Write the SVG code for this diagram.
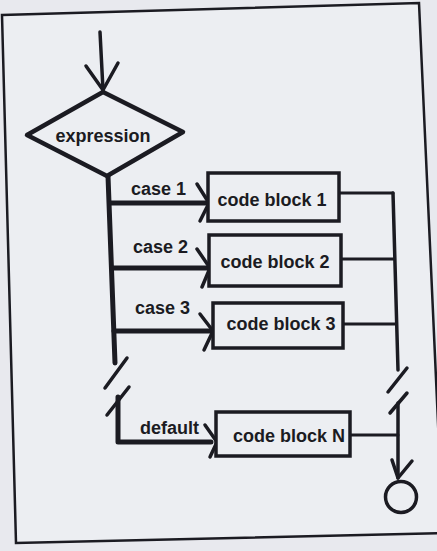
<svg xmlns="http://www.w3.org/2000/svg" width="437" height="551" viewBox="0 0 437 551">
<style>
.ln{fill:none;stroke:#1b1b22;stroke-linecap:round;stroke-linejoin:round}
.thick{stroke-width:5}
.mid{stroke-width:3.5}
.thin{stroke-width:3}
.box{fill:#eceef2;stroke:#1b1b22;stroke-width:3.5}
.t{font-family:"Liberation Sans",Arial,sans-serif;font-weight:bold;font-size:18px;fill:#1b1b22}
</style>
<rect x="0" y="0" width="437" height="551" fill="#e8e9ee"/>
<polygon points="2,15 419,3 443,533 16,543" fill="#eceef2" stroke="#1b1b22" stroke-width="2.5"/>

<g id="connectors">
  <!-- entry -->
  <line class="ln mid" x1="100" y1="32" x2="103" y2="90"/>
  <polyline class="ln mid" points="86,66 103,90 118,63"/>
  <!-- main left trunk -->
  <polyline class="ln thick" points="108,176 115,363"/>
  <line class="ln mid" x1="127" y1="358" x2="105" y2="388"/>
  <line class="ln mid" x1="129" y1="387" x2="107" y2="415"/>
  <polyline class="ln thick" points="118,397 118,442 211,442"/>
  <!-- case branches -->
  <line class="ln thick" x1="111" y1="203" x2="206" y2="203"/>
  <polyline class="ln mid" points="197,184 209,203 200,221"/>
  <line class="ln thick" x1="112" y1="268" x2="207" y2="268"/>
  <polyline class="ln mid" points="197,249 210,268 202,287"/>
  <line class="ln thick" x1="114" y1="331" x2="210" y2="331"/>
  <polyline class="ln mid" points="200,314 213,331 204,350"/>
  <polyline class="ln mid" points="205,425 217,442 210,457"/>
  <!-- right collector -->
  <line class="ln thin" x1="339" y1="193" x2="393" y2="193"/>
  <line class="ln thin" x1="341" y1="259" x2="394" y2="259"/>
  <line class="ln thin" x1="343" y1="324" x2="395" y2="324"/>
  <polyline class="ln mid" points="393,193 398,370"/>
  <line class="ln mid" x1="407" y1="368" x2="388" y2="392"/>
  <line class="ln mid" x1="407" y1="393" x2="390" y2="413"/>
  <line class="ln mid" x1="398" y1="403" x2="398" y2="478"/>
  <line class="ln thin" x1="350" y1="435" x2="398" y2="435"/>
  <polyline class="ln mid" points="392,460 398,478 412,461"/>
  <!-- labels -->
  <text class="t" x="131" y="195">case 1</text>
  <text class="t" x="133" y="253">case 2</text>
  <text class="t" x="135" y="314">case 3</text>
  <text class="t" x="140" y="434">default</text>
</g>

<g id="expression">
  <polygon points="103,92 183,132 107,176 27,135" fill="#eceef2" stroke="#1b1b22" stroke-width="4.5" stroke-linejoin="round"/>
  <text class="t" x="103" y="142" text-anchor="middle">expression</text>
</g>
<g id="block1">
  <rect class="box" x="208" y="173" width="131" height="48"/>
  <text class="t" x="272" y="206" text-anchor="middle">code block 1</text>
</g>
<g id="block2">
  <rect class="box" x="209" y="235" width="132" height="51"/>
  <text class="t" x="275" y="268" text-anchor="middle">code block 2</text>
</g>
<g id="block3">
  <rect class="box" x="213" y="303" width="130" height="45"/>
  <text class="t" x="281" y="330" text-anchor="middle">code block 3</text>
</g>
<g id="blockN">
  <rect class="box" x="216" y="412" width="134" height="44"/>
  <text class="t" x="289" y="442" text-anchor="middle">code block N</text>
</g>
<g id="end">
  <circle cx="401" cy="497" r="15.5" fill="none" stroke="#1b1b22" stroke-width="3.5"/>
</g>
</svg>
